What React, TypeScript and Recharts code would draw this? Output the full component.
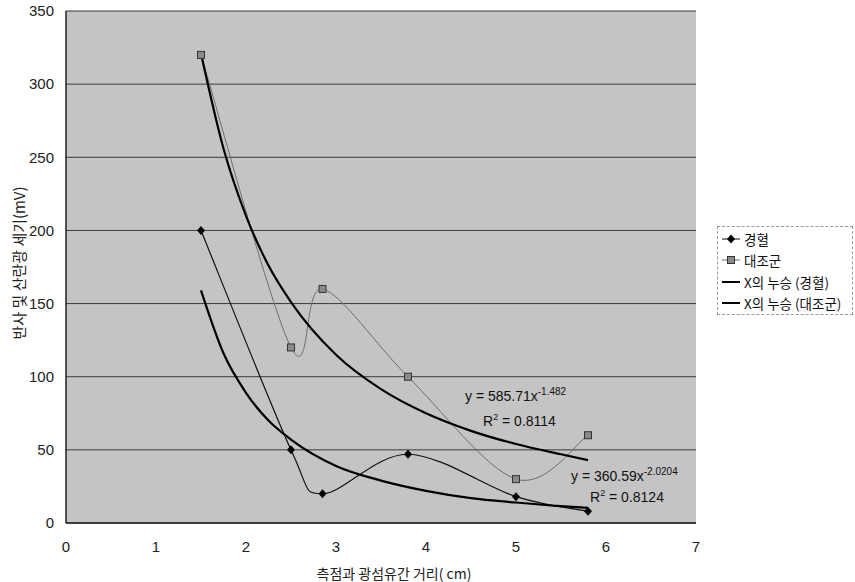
import { ComposedChart, Line, XAxis, YAxis, CartesianGrid } from 'recharts';

// measured points (x = 거리 cm, y = mV)
const gyeonghyeol = [
  { x: 1.5, y: 200 },
  { x: 2.5, y: 50 },
  { x: 2.85, y: 20 },
  { x: 3.8, y: 47 },
  { x: 5.0, y: 18 },
  { x: 5.8, y: 8 },
];

const daejogun = [
  { x: 1.5, y: 320 },
  { x: 2.5, y: 120 },
  { x: 2.85, y: 160 },
  { x: 3.8, y: 100 },
  { x: 5.0, y: 30 },
  { x: 5.8, y: 60 },
];

// power trendlines
const trendGyeonghyeol = [
  { x: 1.5, y: 159 },
  { x: 1.75, y: 116 },
  { x: 2.0, y: 89 },
  { x: 2.25, y: 70 },
  { x: 2.5, y: 57 },
  { x: 3.0, y: 39 },
  { x: 3.5, y: 29 },
  { x: 4.0, y: 22 },
  { x: 4.5, y: 17 },
  { x: 5.0, y: 14 },
  { x: 5.5, y: 11.5 },
  { x: 5.8, y: 10.3 },
];

const trendDaejogun = [
  { x: 1.5, y: 321 },
  { x: 1.75, y: 256 },
  { x: 2.0, y: 210 },
  { x: 2.25, y: 176 },
  { x: 2.5, y: 151 },
  { x: 3.0, y: 115 },
  { x: 3.5, y: 91.5 },
  { x: 4.0, y: 75 },
  { x: 4.5, y: 63 },
  { x: 5.0, y: 54 },
  { x: 5.5, y: 47 },
  { x: 5.8, y: 43 },
];

const xTicks = [0, 1, 2, 3, 4, 5, 6, 7];
const yTicks = [0, 50, 100, 150, 200, 250, 300, 350];

const FONT = '"Liberation Sans", Arial, "Noto Sans CJK KR", sans-serif';
const KFONT = '"Noto Sans CJK KR", "Liberation Sans", sans-serif';

// Excel-style smoothed line (Catmull-Rom as cubic bezier)
const excelSmooth = (context: any) => {
  let xs: number[] = [];
  let ys: number[] = [];
  return {
    areaStart() {},
    areaEnd() {},
    lineStart() {
      xs = [];
      ys = [];
    },
    point(x: number, y: number) {
      xs.push(+x);
      ys.push(+y);
    },
    lineEnd() {
      const n = xs.length;
      if (!n) return;
      context.moveTo(xs[0], ys[0]);
      for (let i = 0; i < n - 1; i++) {
        const a = Math.max(i - 1, 0);
        const d = Math.min(i + 2, n - 1);
        context.bezierCurveTo(
          xs[i] + (xs[i + 1] - xs[a]) / 6,
          ys[i] + (ys[i + 1] - ys[a]) / 6,
          xs[i + 1] - (xs[d] - xs[i]) / 6,
          ys[i + 1] - (ys[d] - ys[i]) / 6,
          xs[i + 1],
          ys[i + 1],
        );
      }
    },
  };
};

function Diamond({ cx, cy }: any) {
  if (cx == null || cy == null) return null;
  return <path d={`M${cx},${cy - 4.5}L${cx + 4},${cy}L${cx},${cy + 4.5}L${cx - 4},${cy}Z`} fill="#000" />;
}

function Square({ cx, cy }: any) {
  if (cx == null || cy == null) return null;
  return <rect x={cx - 3.5} y={cy - 3.5} width={7} height={7} fill="#8a8a8a" stroke="#333" strokeWidth={1} />;
}

const legendItems = [
  { label: '경혈', kind: 'diamond' },
  { label: '대조군', kind: 'square' },
  { label: 'X의 누승 (경혈)', kind: 'trend' },
  { label: 'X의 누승 (대조군)', kind: 'trend' },
];

export default function App() {
  return (
    <div style={{ position: 'absolute', left: 0, top: 0, width: 855, height: 582, background: '#fff' }}>
      <ComposedChart width={855} height={582} margin={{ top: 11, right: 159, bottom: 29, left: 26 }}>
        <CartesianGrid horizontal vertical={false} stroke="#3a3a3a" fill="#c4c4c4" fillOpacity={1} />
        <XAxis
          dataKey="x"
          type="number"
          domain={[0, 7]}
          ticks={xTicks}
          tickLine={false}
          axisLine={{ stroke: '#222', strokeWidth: 1.5 }}
          tick={{ fill: '#222', fontSize: 15, fontFamily: FONT }}
          tickMargin={12}
          height={30}
        />
        <YAxis
          type="number"
          domain={[0, 350]}
          ticks={yTicks}
          tickLine={false}
          axisLine={{ stroke: '#222', strokeWidth: 1.5 }}
          tick={{ fill: '#222', fontSize: 15, fontFamily: FONT }}
          tickMargin={6}
          width={40}
        />
        <Line data={daejogun} dataKey="y" type={excelSmooth as any} stroke="#6e6e6e" strokeWidth={1} dot={<Square />} isAnimationActive={false} />
        <Line data={gyeonghyeol} dataKey="y" type={excelSmooth as any} stroke="#111" strokeWidth={1.2} dot={<Diamond />} isAnimationActive={false} />
        <Line data={trendDaejogun} dataKey="y" type="monotone" stroke="#000" strokeWidth={2.2} dot={false} isAnimationActive={false} />
        <Line data={trendGyeonghyeol} dataKey="y" type="monotone" stroke="#000" strokeWidth={2.2} dot={false} isAnimationActive={false} />
      </ComposedChart>

      {/* trendline equations */}
      <div style={{ position: 'absolute', left: 465, top: 384, fontFamily: FONT, fontSize: 14, color: '#111', lineHeight: '16px', whiteSpace: 'nowrap' }}>
        y = 585.71x<sup style={{ fontSize: 10, verticalAlign: 6 }}>-1.482</sup>
      </div>
      <div style={{ position: 'absolute', left: 483, top: 409, fontFamily: FONT, fontSize: 14, color: '#111', lineHeight: '16px', whiteSpace: 'nowrap' }}>
        R<sup style={{ fontSize: 9, verticalAlign: 6 }}>2</sup> = 0.8114
      </div>
      <div style={{ position: 'absolute', left: 571, top: 464, fontFamily: FONT, fontSize: 14, color: '#111', lineHeight: '16px', whiteSpace: 'nowrap' }}>
        y = 360.59x<sup style={{ fontSize: 10, verticalAlign: 6 }}>-2.0204</sup>
      </div>
      <div style={{ position: 'absolute', left: 590, top: 485, fontFamily: FONT, fontSize: 14, color: '#111', lineHeight: '16px', whiteSpace: 'nowrap' }}>
        R<sup style={{ fontSize: 9, verticalAlign: 6 }}>2</sup> = 0.8124
      </div>

      {/* axis titles */}
      <div
        style={{
          position: 'absolute',
          left: 18,
          top: 263,
          transform: 'translate(-50%, -50%) rotate(-90deg)',
          fontFamily: KFONT,
          fontSize: 15,
          color: '#222',
          whiteSpace: 'nowrap',
        }}
      >
        반사 및 산란광 세기(mV)
      </div>
      <div
        style={{
          position: 'absolute',
          left: 394,
          top: 573,
          transform: 'translate(-50%, -50%)',
          fontFamily: KFONT,
          fontSize: 14,
          color: '#222',
          whiteSpace: 'nowrap',
        }}
      >
        측점과 광섬유간 거리( cm)
      </div>

      {/* Legend */}
      <div
        style={{
          position: 'absolute',
          left: 717,
          top: 226,
          width: 136,
          height: 89,
          border: '1px dashed #9a9a9a',
          boxSizing: 'border-box',
          paddingTop: 1,
        }}
      >
        {legendItems.map(({ label, kind }) => (
          <div key={label} style={{ display: 'flex', alignItems: 'center', height: 21.5 }}>
            <svg width={22} height={12} style={{ marginLeft: 2, marginRight: 2 }}>
              {kind === 'trend' ? (
                <line x1={2} y1={6} x2={20} y2={6} stroke="#000" strokeWidth={2} />
              ) : (
                <line x1={2} y1={6} x2={20} y2={6} stroke={kind === 'square' ? '#6e6e6e' : '#111'} strokeWidth={1} />
              )}
              {kind === 'diamond' && <path d="M11,1.5L15,6L11,10.5L7,6Z" fill="#000" />}
              {kind === 'square' && <rect x={7.5} y={2.5} width={7} height={7} fill="#8a8a8a" stroke="#333" strokeWidth={1} />}
            </svg>
            <span style={{ fontFamily: KFONT, fontSize: 13.5, color: '#111', whiteSpace: 'nowrap' }}>{label}</span>
          </div>
        ))}
      </div>
    </div>
  );
}
